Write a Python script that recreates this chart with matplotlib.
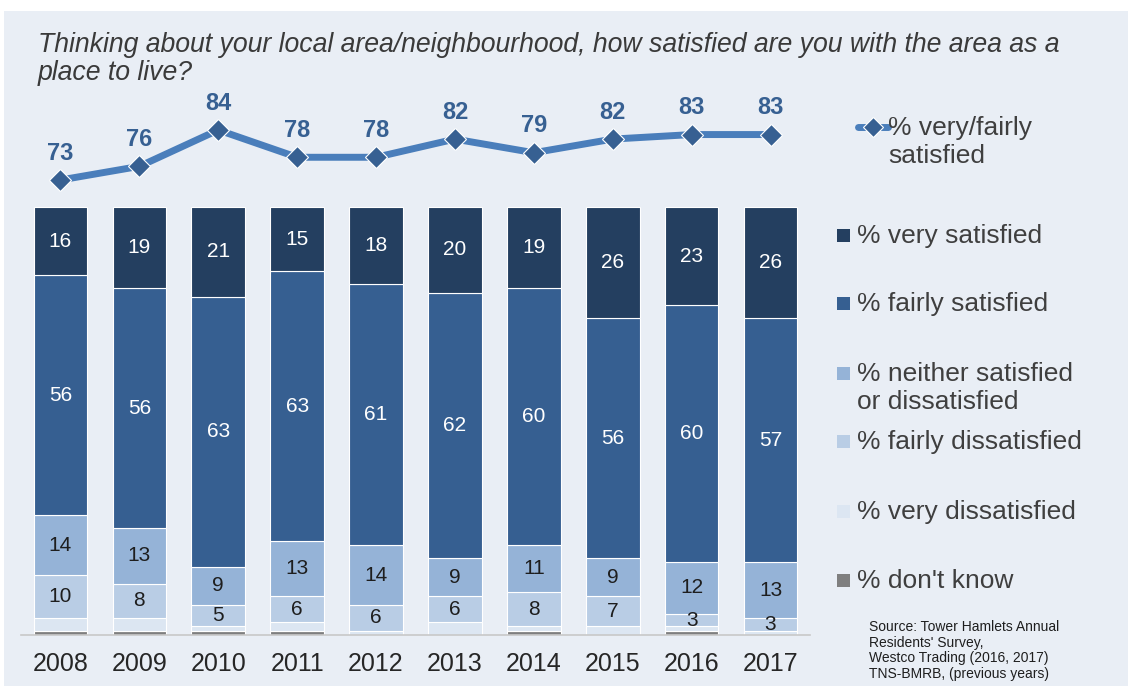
import matplotlib
matplotlib.use("Agg")
import matplotlib.pyplot as plt
from matplotlib.patches import Rectangle
from matplotlib.lines import Line2D
import numpy as np

plt.rcParams["font.family"] = ["Liberation Sans", "DejaVu Sans"]

years = ["2008", "2009", "2010", "2011", "2012", "2013", "2014", "2015", "2016", "2017"]
very_satisfied = [16, 19, 21, 15, 18, 20, 19, 26, 23, 26]
fairly_satisfied = [56, 56, 63, 63, 61, 62, 60, 56, 60, 57]
neither = [14, 13, 9, 13, 14, 9, 11, 9, 12, 13]
fairly_dissatisfied = [10, 8, 5, 6, 6, 6, 8, 7, 3, 3]
very_dissatisfied = [3, 3, 1, 2, 1, 3, 1, 2, 1, 1]
dont_know = [1, 1, 1, 1, 0, 0, 1, 0, 1, 0]
very_fairly_satisfied = [73, 76, 84, 78, 78, 82, 79, 82, 83, 83]

series_names = ["% very satisfied", "% fairly satisfied",
                "% neither satisfied\nor dissatisfied", "% fairly dissatisfied",
                "% very dissatisfied", "% don't know"]
colors = ["#243F60", "#365F91", "#95B3D7", "#B9CDE5", "#DCE6F2", "#7F7F7F"]
label_colors = ["white", "white", "#1E1E1E", "#1E1E1E", None, None]

W, H = 1128, 686
BG = "#E9EEF5"


def fx(x):
    return x / W


def fy(y):
    return 1 - y / H


def main() -> None:
    fig = plt.figure(figsize=(W / 100, H / 100), dpi=100, facecolor="white")
    fig.add_artist(Rectangle((fx(4), 0), 1 - fx(4), fy(11), transform=fig.transFigure,
                             facecolor=BG, edgecolor="none", zorder=-10))

    ax = fig.add_axes([fx(21), fy(635), fx(810) - fx(21), fy(100) - fy(635)])
    ax.set_facecolor("none")
    x = np.arange(len(years))

    # bottom-up stacking: don't know first
    stack = [dont_know, very_dissatisfied, fairly_dissatisfied, neither,
             fairly_satisfied, very_satisfied]
    stack_idx = [5, 4, 3, 2, 1, 0]
    bottom = np.zeros(len(years))
    for vals, i in zip(stack, stack_idx):
        vals = np.array(vals, dtype=float)
        ax.bar(x, vals, bottom=bottom, width=0.68, color=colors[i],
               edgecolor="white", linewidth=0.8)
        if label_colors[i] is not None:
            for xi, v, b in zip(x, vals, bottom):
                if v > 0:
                    ax.text(xi, b + v / 2, f"{v:g}", ha="center", va="center",
                            fontsize=15, color=label_colors[i])
        bottom += vals

    ax.set_xlim(-0.5, 9.5)
    ax.set_ylim(0, 125)
    ax.set_yticks([])
    ax.set_xticks(x)
    ax.set_xticklabels(years, fontsize=18, color="#262626")
    ax.tick_params(axis="x", length=0, pad=12)
    for s in ["top", "right", "left"]:
        ax.spines[s].set_visible(False)
    ax.spines["bottom"].set_color("#C8C8C8")
    ax.spines["bottom"].set_linewidth(1.2)

    # line on its own scale
    ax2 = ax.twinx()
    ax2.set_ylim(-27.1, 90.6)
    ax2.axis("off")
    ax2.plot(x, very_fairly_satisfied, color="#4A7EBB", linewidth=5,
             marker="D", markersize=11, markerfacecolor="#376092",
             markeredgecolor="white", markeredgewidth=0.8, solid_capstyle="round")
    for xi, v in zip(x, very_fairly_satisfied):
        ax2.annotate(str(v), (xi, v), xytext=(0, 11), textcoords="offset points",
                     ha="center", va="bottom", fontsize=17, fontweight="bold",
                     color="#376092")

    # title
    fig.text(fx(38), fy(59),
             "Thinking about your local area/neighbourhood, how satisfied are you with the area as a\nplace to live?",
             fontsize=19.2, style="italic", color="#3A3A3A", ha="left", va="center",
             linespacing=1.1)

    # legend
    ly = 127
    fig.add_artist(Line2D([fx(858), fx(888)], [fy(ly), fy(ly)], transform=fig.transFigure,
                          color="#4A7EBB", linewidth=5, solid_capstyle="round"))
    fig.add_artist(Line2D([fx(873)], [fy(ly)], transform=fig.transFigure, marker="D",
                          markersize=10, markerfacecolor="#376092",
                          markeredgecolor="white", markeredgewidth=0.8))
    fig.text(fx(888), fy(ly - 11), "% very/fairly\nsatisfied", fontsize=19, color="#3F3F3F",
             ha="left", va="top", linespacing=1.2)

    leg_y = [235, 303, 387, 441, 511, 580]
    for name, c, yy in zip(series_names, colors, leg_y):
        first_y = yy - 14 if "\n" in name else yy
        fig.add_artist(Rectangle((fx(837), fy(first_y + 6.5)), fx(13), 13 / H,
                                 transform=fig.transFigure, facecolor=c, edgecolor="none"))
        fig.text(fx(857), fy(first_y - 11), name, fontsize=19, color="#3F3F3F",
                 ha="left", va="top", linespacing=1.2)

    fig.text(fx(869), fy(620),
             "Source: Tower Hamlets Annual\nResidents' Survey,\nWestco Trading (2016, 2017)\nTNS-BMRB, (previous years)",
             fontsize=10, color="#1E1E1E", ha="left", va="top", linespacing=1.15)

    fig.savefig("out.png", dpi=100, facecolor="white")


if __name__ == "__main__":
    main()
